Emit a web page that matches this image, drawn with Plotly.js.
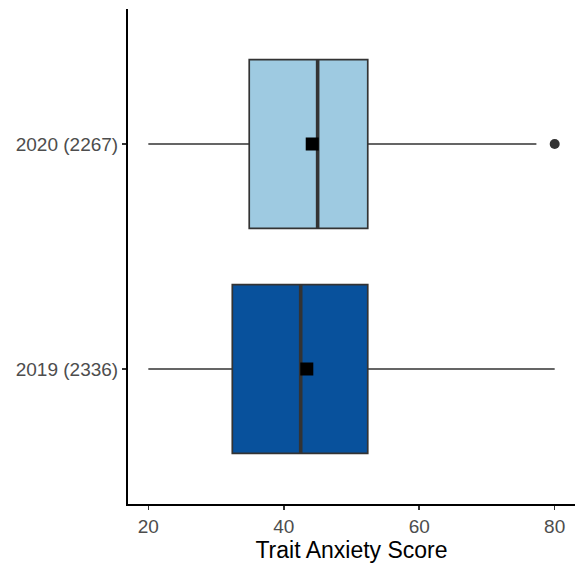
<!DOCTYPE html>
<html>
<head>
<meta charset="utf-8">
<script src="https://cdn.plot.ly/plotly-3.0.1.min.js"></script>
<style>html,body{margin:0;padding:0;background:#fff;}#chart{width:577px;height:563px;}</style>
</head>
<body>
<div id="chart"></div>
<script>
// Data
const categories = ["2019 (2336)", "2020 (2267)"];
const lowerWhisker = [20, 20];
const q1Values = [32.4, 34.9];
const medianValues = [42.5, 45];
const q3Values = [52.4, 52.4];
const upperWhisker = [80, 77.3];
const meanValues = [43.4, 44.2];
const outlierValues = [[], [80]];
const fillColors = ["#08519C", "#9ECAE1"];

const boxWidth = 0.75;
const traces = [];
categories.forEach((c, i) => {
  traces.push({
    type: "box", orientation: "h",
    y: [i], q1: [q1Values[i]], median: [medianValues[i]], q3: [q3Values[i]],
    lowerfence: [lowerWhisker[i]], upperfence: [upperWhisker[i]],
    width: boxWidth, whiskerwidth: 0, boxpoints: false,
    fillcolor: fillColors[i], line: {color: "#333333", width: 1.7},
    showlegend: false, hoverinfo: "skip"
  });
  traces.push({
    type: "scatter", mode: "lines",
    x: [medianValues[i], medianValues[i]], y: [i - boxWidth / 2, i + boxWidth / 2],
    line: {color: "#333333", width: 3.6}, showlegend: false, hoverinfo: "skip"
  });
  traces.push({
    type: "scatter", mode: "markers",
    x: [meanValues[i]], y: [i],
    marker: {symbol: "square", size: 13, color: "#000000"}, showlegend: false
  });
  if (outlierValues[i].length) {
    traces.push({
      type: "scatter", mode: "markers",
      x: outlierValues[i], y: outlierValues[i].map(() => i),
      marker: {symbol: "circle", size: 10, color: "#333333"}, showlegend: false
    });
  }
});

const layout = {
  width: 577, height: 563,
  margin: {l: 128, r: 2, t: 9, b: 59},
  paper_bgcolor: "#ffffff", plot_bgcolor: "#ffffff",
  font: {family: "Liberation Sans, Arial, sans-serif"},
  xaxis: {
    range: [17, 83], tickvals: [20, 40, 60, 80], ticktext: ["20", "40", "60", "80"],
    showgrid: false, zeroline: false, showline: true, linecolor: "#000000", linewidth: 2,
    ticks: "outside", ticklen: 4, tickwidth: 1.5, tickcolor: "#333333",
    tickfont: {size: 19, color: "#4D4D4D"},
    title: {text: "Trait Anxiety Score", font: {size: 23, color: "#000000"}, standoff: 5}
  },
  yaxis: {
    range: [-0.6, 1.6], tickvals: [0, 1], ticktext: categories,
    showgrid: false, zeroline: false, showline: true, linecolor: "#000000", linewidth: 2,
    ticks: "outside", ticklen: 4, tickwidth: 1.5, tickcolor: "#333333",
    tickfont: {size: 19, color: "#4D4D4D"}
  }
};
Plotly.newPlot("chart", traces, layout, {displayModeBar: false, staticPlot: true});
</script>
</body>
</html>
